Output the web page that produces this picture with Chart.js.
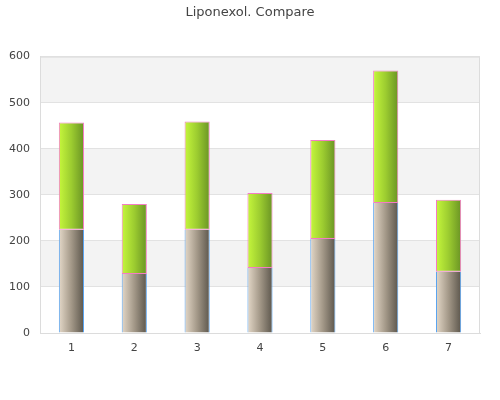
<!DOCTYPE html>
<html><head><meta charset="utf-8">
<script src="https://cdn.jsdelivr.net/npm/chart.js@4/dist/chart.umd.min.js"></script>
<style>html,body{margin:0;padding:0;background:#fff}#wrap{width:500px;height:400px}</style>
</head><body><div id="wrap"><canvas id="c" width="500" height="400"></canvas></div>
<script>
const categories = ['1','2','3','4','5','6','7'];
const baseValues = [224, 128, 224, 141, 204, 282, 133];
const upperValues = [233, 152, 235, 163, 215, 288, 156];
const yTicks = [0, 100, 200, 300, 400, 500, 600];
const titleText = 'Liponexol. Compare';

const bandsPlugin = {
  id: 'bands',
  beforeDraw(chart) {
    const {ctx, chartArea: a, scales: {y}} = chart;
    ctx.save();
    ctx.fillStyle = '#f3f3f3';
    for (let i = 1; i < yTicks.length - 1; i += 2) {
      const y1 = y.getPixelForValue(yTicks[i + 1]);
      const y0 = y.getPixelForValue(yTicks[i]);
      ctx.fillRect(a.left, y1, a.right - a.left, y0 - y1);
    }
    ctx.restore();
  },
  beforeDatasetsDraw(chart) {
    const ctx = chart.ctx;
    const stops = [
      ['#e4d8c8', '#a39888', '#5c564c'],
      ['#c6f73c', '#9ccc30', '#6a9424']
    ];
    chart.data.datasets.forEach((ds, di) => {
      const meta = chart.getDatasetMeta(di);
      meta.data.forEach(el => {
        const x0 = el.x - el.width / 2, x1 = el.x + el.width / 2;
        const g = ctx.createLinearGradient(x0, 0, x1, 0);
        g.addColorStop(0, stops[di][0]);
        g.addColorStop(0.5, stops[di][1]);
        g.addColorStop(1, stops[di][2]);
        el.options = Object.assign({}, el.options, {backgroundColor: g});
      });
    });
  },
  afterDraw(chart) {
    const {ctx, chartArea: a} = chart;
    ctx.save();
    ctx.strokeStyle = '#dcdcdc';
    ctx.lineWidth = 1;
    ctx.beginPath();
    ctx.moveTo(a.left + 0.5, a.top + 0.5);
    ctx.lineTo(a.right - 0.5, a.top + 0.5);
    ctx.lineTo(a.right - 0.5, a.bottom);
    ctx.stroke();
    ctx.restore();
  }
};

new Chart(document.getElementById('c'), {
  type: 'bar',
  data: {
    labels: categories,
    datasets: [
      {data: baseValues, backgroundColor: '#b0a898', borderColor: '#5aa4f0',
       borderWidth: {left: 1, right: 1, top: 0, bottom: 0}, borderSkipped: false,
       barPercentage: 0.4, categoryPercentage: 1},
      {data: upperValues, backgroundColor: '#a0d030', borderColor: '#f47cc4',
       borderWidth: 1, borderSkipped: false,
       barPercentage: 0.4, categoryPercentage: 1}
    ]
  },
  options: {
    responsive: false,
    animation: false,
    devicePixelRatio: 1,
    layout: {padding: {left: 0, right: 0, top: 0, bottom: 0}},
    plugins: {
      legend: {display: false},
      tooltip: {enabled: false},
      title: {display: true, text: titleText, color: '#444',
        font: {family: 'DejaVu Sans', size: 13, weight: 'normal'},
        padding: {top: 5, bottom: 36}}
    },
    scales: {
      x: {
        stacked: true,
        grid: {display: false, drawTicks: false},
        border: {display: true, color: '#dcdcdc'},
        ticks: {color: '#444', font: {family: 'DejaVu Sans', size: 11}, padding: 9},
        afterFit: s => { s.height = 67; }
      },
      y: {
        stacked: true,
        min: 0, max: 600,
        afterBuildTicks: s => { s.ticks = yTicks.map(v => ({value: v})); },
        grid: {color: '#e2e2e2', drawTicks: false},
        border: {display: true, color: '#dcdcdc'},
        ticks: {color: '#444', font: {family: 'DejaVu Sans', size: 11}, padding: 10},
        afterFit: s => { s.width = 40; }
      },
      yRight: {
        position: 'right',
        display: true,
        min: 0, max: 600,
        grid: {display: false, drawTicks: false},
        border: {display: false},
        ticks: {display: false},
        afterFit: s => { s.width = 20; }
      }
    }
  },
  plugins: [bandsPlugin]
});
</script></body></html>
